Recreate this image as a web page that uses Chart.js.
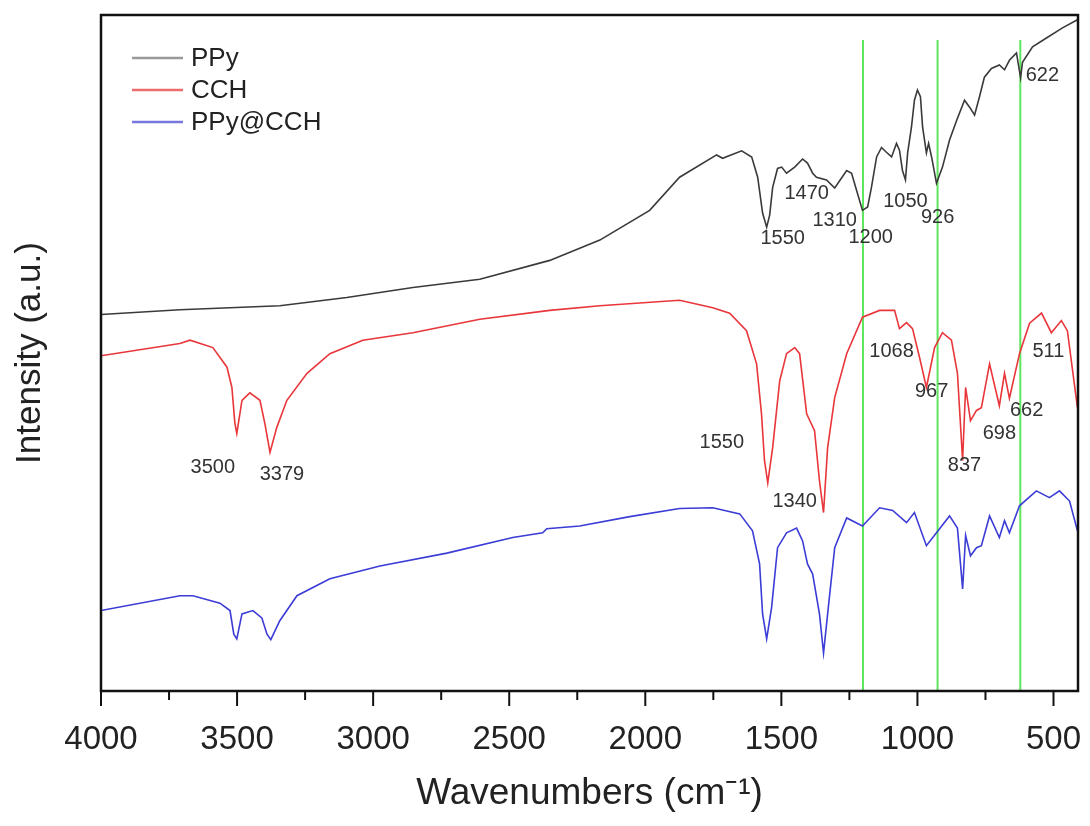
<!DOCTYPE html>
<html>
<head>
<meta charset="utf-8">
<script src="https://cdn.jsdelivr.net/npm/chart.js@4.4.0/dist/chart.umd.min.js"></script>
<style>
  body { margin: 0; background: #fff; }
</style>
</head>
<body>
<canvas id="ftir" width="1090" height="826"></canvas>
<script>
// FTIR spectra, wavenumber (cm-1) vs intensity (a.u.)
var ppyWave = [4000, 3710, 3343, 3097, 2854, 2608, 2351, 2167, 1984, 1874, 1738, 1716, 1646, 1609, 1587, 1569, 1554, 1543, 1532, 1514,
  1499, 1481, 1451, 1422, 1404, 1385, 1371, 1334, 1304, 1260, 1242, 1224, 1202, 1183, 1169, 1150, 1132, 1114, 1095, 1077,
  1066, 1055, 1044, 1036, 1022, 1011, 1000, 989, 981, 967, 959, 948, 930, 908, 882, 856, 827, 809, 790, 772,
  754, 728, 699, 680, 662, 636, 621, 614, 577, 526, 467, 412];
var ppyInt = [55.7, 56.4, 57.0, 58.2, 59.7, 60.9, 63.7, 66.7, 71.1, 76.0, 79.3, 78.8, 79.9, 79.0, 76.0, 70.7, 68.6, 70.4, 74.5, 77.3,
  77.5, 76.6, 77.5, 78.7, 78.1, 76.6, 76.0, 75.6, 74.4, 77.0, 76.6, 74.1, 71.1, 71.6, 74.5, 79.0, 80.4, 79.7, 79.0, 81.0,
  80.0, 77.0, 75.6, 79.6, 83.4, 87.4, 88.9, 87.9, 83.4, 79.6, 81.0, 79.0, 75.1, 77.5, 81.5, 84.4, 87.4, 86.4, 85.2, 87.9,
  90.8, 92.1, 92.6, 91.9, 93.3, 94.4, 90.7, 93.0, 95.3, 96.6, 98.1, 99.3];

var cchWave = [4000, 3710, 3673, 3589, 3537, 3519, 3508, 3501, 3482, 3453, 3416, 3398, 3379, 3354, 3317, 3243, 3159, 3038, 2854, 2608,
  2351, 2167, 1874, 1752, 1690, 1628, 1591, 1573, 1562, 1550, 1532, 1506, 1481, 1451, 1433, 1407, 1378, 1360, 1345, 1330,
  1304, 1260, 1202, 1139, 1084, 1066, 1040, 1018, 992, 967, 937, 908, 875, 853, 834, 823, 805, 783, 765, 735,
  699, 680, 662, 625, 588, 544, 508, 471, 449, 412];
var cchInt = [49.6, 51.4, 51.9, 50.8, 47.9, 44.9, 39.6, 38.1, 43.0, 44.1, 43.0, 39.6, 35.3, 39.0, 43.0, 47.0, 49.9, 51.9, 53.0, 55.0,
  56.3, 57.0, 57.8, 56.7, 55.9, 53.3, 48.4, 41.0, 34.1, 30.8, 36.0, 45.9, 49.9, 50.8, 49.9, 41.0, 38.5, 31.1, 26.4, 36.0,
  43.4, 49.9, 55.3, 56.3, 56.3, 53.6, 54.5, 53.6, 49.3, 44.9, 50.8, 53.0, 51.9, 47.0, 34.1, 44.9, 40.0, 41.5, 41.9, 48.4,
  42.2, 47.0, 43.3, 49.9, 54.4, 55.9, 53.0, 54.8, 53.3, 41.9];

var compWave = [4000, 3710, 3662, 3563, 3526, 3512, 3501, 3482, 3442, 3409, 3390, 3376, 3343, 3280, 3159, 2975, 2729, 2487, 2377, 2362,
  2241, 2057, 1874, 1752, 1653, 1606, 1580, 1569, 1554, 1536, 1514, 1481, 1444, 1422, 1404, 1385, 1360, 1345, 1330, 1304,
  1260, 1202, 1139, 1091, 1040, 1011, 967, 930, 882, 853, 834, 823, 805, 783, 765, 735, 699, 680, 662, 625,
  563, 515, 478, 441, 412];
var compInt = [11.9, 14.1, 14.1, 13.0, 11.9, 8.4, 7.7, 11.4, 11.9, 10.8, 8.4, 7.6, 10.4, 14.1, 16.6, 18.5, 20.4, 22.7, 23.4, 24.0,
  24.4, 25.8, 27.0, 27.1, 26.2, 23.7, 18.8, 11.4, 7.7, 12.3, 21.2, 23.4, 24.1, 22.2, 18.8, 17.3, 11.4, 5.6, 11.4, 21.2,
  25.6, 24.4, 27.1, 26.7, 24.9, 26.4, 21.5, 23.4, 25.9, 24.1, 15.1, 23.0, 20.0, 21.2, 21.5, 25.9, 22.7, 25.2, 23.4, 27.4,
  29.6, 28.6, 29.6, 28.1, 23.7];

var seriesNames = ['PPy', 'CCH', 'PPy@CCH'];
var seriesColors = ['#3a3a3a', '#e8363a', '#3c3cd6'];
var legendColors = ['#999999', '#ee6b6e', '#7777dd'];

// green marker lines
var markerWaves = [1200, 926, 622];
var markerTop = 96.3;

// peak labels
var peakText = ['1550', '1470', '1310', '1200', '1050', '926', '622',
  '1068', '967', '837', '698', '662', '511', '1550', '1340', '3500', '3379'];
var peakWave = [1495, 1407, 1304, 1172, 1044, 926, 541,
  1095, 948, 827, 699, 599, 519, 1719, 1451, 3589, 3335];
var peakInt = [67.0, 73.6, 69.6, 67.1, 72.4, 70.1, 91.1,
  50.2, 44.3, 33.3, 38.1, 41.5, 50.2, 36.7, 28.1, 33.0, 32.1];

var xTickValues = [4000, 3500, 3000, 2500, 2000, 1500, 1000, 500];
var xMinorValues = [3750, 3250, 2750, 2250, 1750, 1250, 750];

var fam = "'Liberation Sans', Arial, sans-serif";

function pts(w, v) {
  return w.map(function (x, i) { return { x: x, y: v[i] }; });
}

var datasets = [
  { data: pts(ppyWave, ppyInt) },
  { data: pts(cchWave, cchInt) },
  { data: pts(compWave, compInt) }
].map(function (d, i) {
  d.label = seriesNames[i];
  d.borderColor = seriesColors[i];
  d.borderWidth = 1.6;
  d.pointRadius = 0;
  d.tension = 0;
  d.order = 1;
  return d;
});

markerWaves.forEach(function (w) {
  datasets.push({
    label: 'marker ' + w,
    data: [{ x: w, y: 0 }, { x: w, y: markerTop }],
    borderColor: '#5ee65e',
    borderWidth: 2,
    pointRadius: 0,
    order: 5
  });
});

var decor = {
  id: 'decor',
  afterDatasetsDraw: function (chart) {
    var ctx = chart.ctx, a = chart.chartArea;
    var x = chart.scales.x, y = chart.scales.y;
    ctx.save();
    ctx.strokeStyle = '#111';
    ctx.lineWidth = 2.5;
    ctx.strokeRect(a.left, a.top, a.right - a.left, a.bottom - a.top);

    ctx.lineWidth = 2;
    xTickValues.forEach(function (v) {
      var px = x.getPixelForValue(v);
      ctx.beginPath(); ctx.moveTo(px, a.bottom); ctx.lineTo(px, a.bottom + 15); ctx.stroke();
    });
    xMinorValues.forEach(function (v) {
      var px = x.getPixelForValue(v);
      ctx.beginPath(); ctx.moveTo(px, a.bottom); ctx.lineTo(px, a.bottom + 9); ctx.stroke();
    });

    ctx.font = '20px ' + fam;
    ctx.fillStyle = '#333';
    ctx.textAlign = 'center';
    ctx.textBaseline = 'middle';
    peakText.forEach(function (t, i) {
      ctx.fillText(t, x.getPixelForValue(peakWave[i]), y.getPixelForValue(peakInt[i]));
    });

    // legend
    ctx.font = '26px ' + fam;
    ctx.fillStyle = '#222';
    ctx.textAlign = 'left';
    seriesNames.forEach(function (n, i) {
      var ly = a.top + 43 + i * 32;
      ctx.strokeStyle = legendColors[i];
      ctx.lineWidth = 2.5;
      ctx.beginPath(); ctx.moveTo(a.left + 31, ly); ctx.lineTo(a.left + 82, ly); ctx.stroke();
      ctx.fillText(n, a.left + 90, ly + 1);
    });
    ctx.restore();
  }
};

new Chart(document.getElementById('ftir'), {
  type: 'line',
  data: { datasets: datasets },
  options: {
    responsive: false,
    animation: false,
    layout: { padding: { top: 15, right: 12, left: 0, bottom: 0 } },
    plugins: { legend: { display: false }, tooltip: { enabled: false } },
    scales: {
      x: {
        type: 'linear',
        reverse: true,
        min: 410,
        max: 4000,
        afterBuildTicks: function (s) { s.ticks = xTickValues.map(function (v) { return { value: v }; }); },
        afterFit: function (s) { s.height = 135; s.paddingLeft = 0; s.paddingRight = 0; },
        grid: { display: false, drawTicks: false },
        border: { display: false },
        ticks: {
          font: { family: fam, size: 33 }, color: '#222', padding: 29, maxRotation: 0, autoSkip: false,
          callback: function (v) { return String(v); }
        },
        title: { display: true, text: 'Wavenumbers (cm\u207B\u00B9)', font: { family: fam, size: 37 }, color: '#222', padding: { top: 0, bottom: 10 } }
      },
      y: {
        min: 0,
        max: 100,
        afterFit: function (s) { s.width = 101; s.paddingTop = 0; s.paddingBottom = 0; },
        grid: { display: false, drawTicks: false },
        border: { display: false },
        ticks: { display: false },
        title: { display: true, text: 'Intensity (a.u.)', font: { family: fam, size: 35 }, color: '#222', padding: { top: 9, bottom: 0 } }
      }
    }
  },
  plugins: [decor]
});
</script>
</body>
</html>
